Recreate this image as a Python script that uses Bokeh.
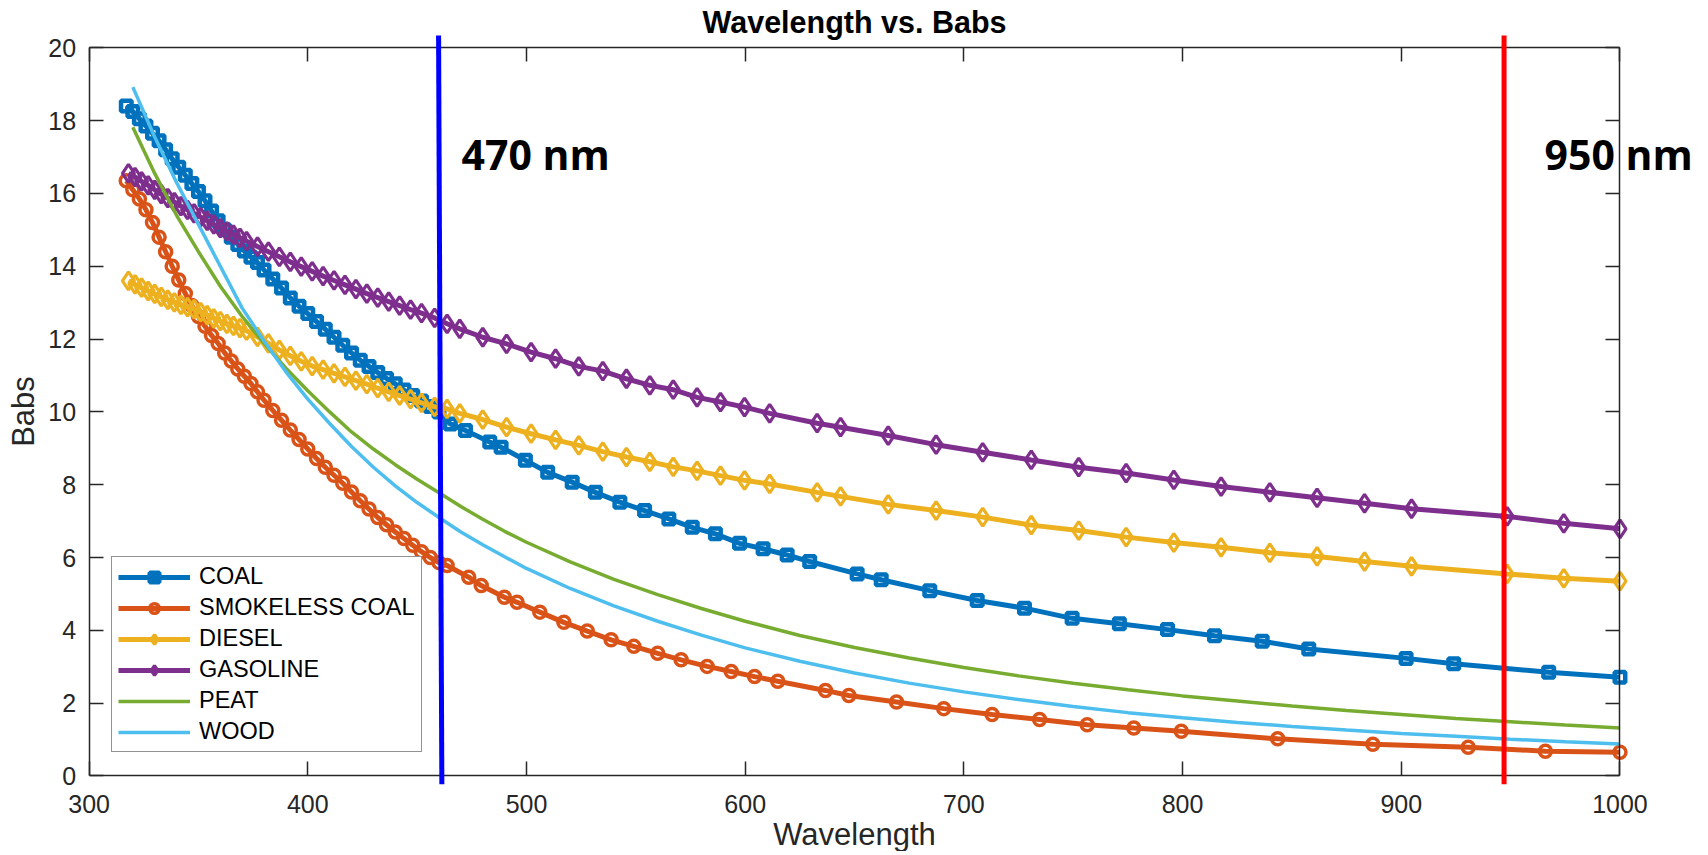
from bokeh.plotting import figure
from bokeh.models import (Legend, LegendItem, LinearAxis, Range1d, FixedTicker,
                          Arrow, Label)
from bokeh.embed import file_html
from bokeh.resources import INLINE

# ---------------- data ----------------
coal_x = [317, 320, 323, 326, 329, 332, 335, 338, 341, 344, 347, 350, 353, 356, 359,
          362, 365, 368, 371, 374, 377, 380, 384, 388, 392, 396, 400, 404, 408, 412,
          416, 420, 424, 428, 432, 436, 440, 444, 448, 452, 456, 460,
          465.2, 472.1, 483.2, 488.4, 499.5, 509.7, 520.9, 531.5, 542.7, 554.0, 565.1,
          575.8, 586.4, 597.4, 608.2, 619.2, 629.5, 651.2, 662.2, 684.4, 706.1, 727.7,
          749.5, 771.1, 793.1, 814.6, 836.4, 857.7, 902.2, 924.0, 967.4, 1000]
coal_y = [18.40, 18.25, 18.05, 17.85, 17.65, 17.45, 17.20, 16.95, 16.72, 16.50, 16.27,
          16.05, 15.80, 15.52, 15.25, 15.00, 14.80, 14.60, 14.42, 14.25, 14.10, 13.90,
          13.65, 13.40, 13.13, 12.90, 12.70, 12.48, 12.27, 12.05, 11.83, 11.62, 11.42,
          11.25, 11.08, 10.92, 10.77, 10.60, 10.45, 10.30, 10.15, 10.00,
          9.67, 9.49, 9.17, 9.03, 8.67, 8.34, 8.07, 7.79, 7.52, 7.29, 7.06,
          6.83, 6.65, 6.39, 6.24, 6.07, 5.89, 5.55, 5.39, 5.09, 4.82, 4.61,
          4.33, 4.18, 4.02, 3.85, 3.70, 3.49, 3.23, 3.08, 2.85, 2.71]

smokeless_x = [317, 320, 323, 326, 329, 332, 335, 338, 341, 344, 347, 350, 353, 356, 359,
               362, 365, 368, 371, 374, 377, 380, 384, 388, 392, 396, 400, 404, 408, 412,
               416, 420, 424, 428, 432, 436, 440, 444, 448, 452, 456, 460,
               463.7, 473.6, 479.3, 489.9, 495.7, 506.1, 517.1, 527.8, 538.7, 549.1,
               560.0, 570.7, 582.6, 593.6, 604.3, 614.9, 636.7, 647.4, 669.2, 690.8,
               712.9, 734.6, 756.4, 777.7, 799.4, 843.5, 887.0, 930.6, 965.9, 1000]
smokeless_y = [16.35, 16.10, 15.85, 15.55, 15.20, 14.80, 14.40, 14.00, 13.62, 13.25,
               12.92, 12.62, 12.35, 12.10, 11.88, 11.62, 11.40, 11.18, 10.98, 10.78,
               10.55, 10.32, 10.04, 9.77, 9.50, 9.24, 8.98, 8.72, 8.48, 8.26,
               8.04, 7.80, 7.56, 7.33, 7.10, 6.90, 6.70, 6.52, 6.34, 6.16, 6.00, 5.86,
               5.78, 5.46, 5.23, 4.91, 4.77, 4.50, 4.22, 3.98, 3.74, 3.56,
               3.37, 3.19, 3.01, 2.87, 2.73, 2.60, 2.35, 2.21, 2.03, 1.85,
               1.69, 1.55, 1.41, 1.32, 1.23, 1.02, 0.87, 0.79, 0.68, 0.65]

gd_x = [318, 321, 324, 327, 330, 333, 336, 339, 342, 345, 348, 351, 354, 357, 360,
        363, 366, 369, 372, 377, 382, 387, 392, 397, 402, 407, 412, 417, 422, 427,
        432, 437, 442, 447, 452, 458,
        463.7, 469.5, 480.0, 490.9, 502.1, 513.3, 523.9, 534.9, 545.7, 556.4, 567.1,
        578.0, 588.7, 599.7, 611.2, 632.9, 643.6, 665.4, 687.3, 708.6, 730.8, 752.5,
        774.2, 796.0, 817.6, 839.9, 861.5, 883.2, 904.7, 948.4, 974.3, 1000]
diesel_y = [13.60, 13.50, 13.41, 13.32, 13.24, 13.16, 13.08, 13.01, 12.94, 12.88,
            12.82, 12.74, 12.66, 12.57, 12.49, 12.42, 12.36, 12.30, 12.23, 12.06,
            11.88, 11.70, 11.54, 11.39, 11.26, 11.16, 11.06, 10.96, 10.86, 10.76,
            10.65, 10.55, 10.45, 10.35, 10.25, 10.14,
            10.08, 9.96, 9.79, 9.58, 9.40, 9.23, 9.08, 8.91, 8.76, 8.63, 8.49,
            8.38, 8.25, 8.12, 8.02, 7.79, 7.68, 7.46, 7.29, 7.11, 6.89, 6.74,
            6.56, 6.41, 6.28, 6.13, 6.03, 5.89, 5.76, 5.55, 5.43, 5.35]
gasoline_y = [16.55, 16.45, 16.33, 16.22, 16.10, 15.98, 15.87, 15.76, 15.65, 15.55,
              15.45, 15.35, 15.25, 15.15, 15.05, 14.96, 14.87, 14.78, 14.69, 14.54,
              14.40, 14.26, 14.12, 13.99, 13.86, 13.73, 13.61, 13.49, 13.37, 13.25,
              13.14, 13.03, 12.92, 12.81, 12.71, 12.58,
              12.42, 12.28, 12.05, 11.87, 11.64, 11.46, 11.25, 11.12, 10.91, 10.73, 10.61,
              10.40, 10.27, 10.13, 9.96, 9.69, 9.58, 9.35, 9.10, 8.89, 8.68, 8.48,
              8.32, 8.13, 7.95, 7.79, 7.64, 7.49, 7.34, 7.13, 6.94, 6.79]

pw_x = [320, 330, 340, 350, 360, 370, 380, 390, 400, 410, 420, 430, 440, 450, 460,
        470, 480, 490, 500, 520, 540, 560, 580, 600, 625, 650, 675, 700, 725, 750,
        775, 800, 825, 850, 875, 900, 925, 950, 975, 1000]
peat_y = [17.82, 16.55, 15.40, 14.40, 13.45, 12.62, 11.88, 11.20, 10.58, 10.00,
          9.45, 8.98, 8.55, 8.15, 7.78, 7.40, 7.05, 6.72, 6.42, 5.88,
          5.40, 4.98, 4.60, 4.25, 3.86, 3.53, 3.24, 2.98, 2.75, 2.55,
          2.37, 2.20, 2.06, 1.92, 1.80, 1.69, 1.58, 1.49, 1.40, 1.32]
wood_y = [18.92, 17.55, 16.30, 15.15, 14.00, 12.85, 11.95, 11.10, 10.35, 9.68,
          9.05, 8.48, 7.97, 7.51, 7.10, 6.70, 6.35, 6.02, 5.70, 5.15,
          4.67, 4.25, 3.87, 3.52, 3.15, 2.83, 2.55, 2.31, 2.10, 1.91,
          1.74, 1.60, 1.47, 1.36, 1.26, 1.17, 1.09, 1.01, 0.94, 0.88]

x_ticks = [300, 400, 500, 600, 700, 800, 900, 1000]
y_ticks = [0, 2, 4, 6, 8, 10, 12, 14, 16, 18, 20]
X_MIN, X_MAX, Y_MIN, Y_MAX = 300, 1000, 0, 20

# annotation marks
blue_line = dict(x_bottom=461.3, x_top=459.8, y_bottom=-0.23, y_top=20.34)
red_line = dict(x_bottom=947.0, x_top=947.0, y_bottom=-0.23, y_top=20.34)
ann_470 = dict(x=470.3, y=17.07, text="470 nm")
ann_950 = dict(x=965.5, y=17.07, text="950 nm")
title_pos = dict(x=650, y=20.71, text="Wavelength vs. Babs")

FONT = "Liberation Sans"
AX = "#262626"

# the frame covers the whole canvas; the box axes are pinned to the data limits
p = figure(width=1704, height=851, output_backend="svg", toolbar_location=None,
           title=None,
           x_range=Range1d(259.49, 1038.65), y_range=Range1d(-2.074, 21.299),
           min_border=0, min_border_left=0, min_border_right=0,
           min_border_top=0, min_border_bottom=0,
           x_axis_location=None, y_axis_location=None)
p.grid.visible = False
p.outline_line_color = None
p.background_fill_color = "white"
p.border_fill_color = "white"


def make_axis(ticks, loc, bounds, labels, label="", standoff=10, label_standoff=12):
    ax = LinearAxis(fixed_location=loc, bounds=bounds)
    ax.ticker = FixedTicker(ticks=ticks)
    ax.major_tick_in = 14
    ax.major_tick_out = 0
    ax.minor_tick_line_color = None
    ax.axis_line_color = AX
    ax.axis_line_width = 1.5
    ax.major_tick_line_color = AX
    ax.major_tick_line_width = 1.5
    ax.major_label_text_font = FONT
    if labels:
        ax.major_label_text_color = AX
        ax.major_label_text_font_size = "25px"
        ax.major_label_standoff = label_standoff
        ax.axis_label = label
        ax.axis_label_text_font = FONT
        ax.axis_label_text_font_size = "31px"
        ax.axis_label_text_font_style = "normal"
        ax.axis_label_text_color = AX
        ax.axis_label_standoff = standoff
    else:
        ax.major_label_text_font_size = "0px"
        ax.major_label_text_color = None
        ax.major_label_standoff = 0
    return ax


p.add_layout(make_axis(x_ticks, Y_MIN, (X_MIN, X_MAX), True, "Wavelength",
                       standoff=1, label_standoff=19), "below")
p.add_layout(make_axis(x_ticks, Y_MAX, (X_MIN, X_MAX), False), "above")
p.add_layout(make_axis(y_ticks, X_MIN, (Y_MIN, Y_MAX), True, "Babs",
                       standoff=5, label_standoff=13), "left")
p.add_layout(make_axis(y_ticks, X_MAX, (Y_MIN, Y_MAX), False), "right")

C_COAL, C_SMK, C_DSL, C_GAS, C_PEAT, C_WOOD = "#0072BD", "#D95319", "#EDB120", "#7E2F8E", "#77AC30", "#4DBEEE"

items = []
l = p.line(coal_x, coal_y, line_color=C_COAL, line_width=5)
s = p.scatter(coal_x, coal_y, marker="square", size=10.5, line_color=C_COAL, line_width=4.5, fill_color=None)
items.append(LegendItem(label="COAL", renderers=[l, s]))
l = p.line(smokeless_x, smokeless_y, line_color=C_SMK, line_width=5)
s = p.scatter(smokeless_x, smokeless_y, marker="circle", size=12, line_color=C_SMK, line_width=3.5, fill_color=None)
items.append(LegendItem(label="SMOKELESS COAL", renderers=[l, s]))
l = p.line(gd_x, diesel_y, line_color=C_DSL, line_width=5)
s = p.scatter(gd_x, diesel_y, marker="diamond", size=18, line_color=C_DSL, line_width=3.2, fill_color=None)
items.append(LegendItem(label="DIESEL", renderers=[l, s]))
l = p.line(gd_x, gasoline_y, line_color=C_GAS, line_width=5)
s = p.scatter(gd_x, gasoline_y, marker="diamond", size=18, line_color=C_GAS, line_width=3.2, fill_color=None)
items.append(LegendItem(label="GASOLINE", renderers=[l, s]))
l = p.line(pw_x, peat_y, line_color=C_PEAT, line_width=3.5)
items.append(LegendItem(label="PEAT", renderers=[l]))
l = p.line(pw_x, wood_y, line_color=C_WOOD, line_width=3.5)
items.append(LegendItem(label="WOOD", renderers=[l]))

legend = Legend(items=items, location=(111, 99), margin=0, padding=6, spacing=4,
                glyph_width=72, glyph_height=24, label_height=24, label_standoff=9,
                label_text_font=FONT, label_text_font_size="23.5px", label_text_color="black",
                border_line_color=AX, border_line_width=1.5, background_fill_color="white",
                background_fill_alpha=1)
p.add_layout(legend)

for ln, col in ((blue_line, "#0000FF"), (red_line, "#FF0000")):
    p.add_layout(Arrow(end=None, start=None, x_start=ln["x_bottom"], y_start=ln["y_bottom"],
                       x_end=ln["x_top"], y_end=ln["y_top"], line_color=col, line_width=5))

for a in (ann_470, ann_950):
    p.add_layout(Label(x=a["x"], y=a["y"], text=a["text"], text_font="Open Sans",
                       text_font_size="41px", text_font_style="bold", text_color="black",
                       text_baseline="alphabetic", text_align="left"))

p.add_layout(Label(x=title_pos["x"], y=title_pos["y"], text=title_pos["text"], text_font=FONT,
                   text_font_size="30.5px", text_font_style="bold", text_color="black",
                   text_baseline="alphabetic", text_align="center"))

open("out.html", "w").write(file_html(p, INLINE))
